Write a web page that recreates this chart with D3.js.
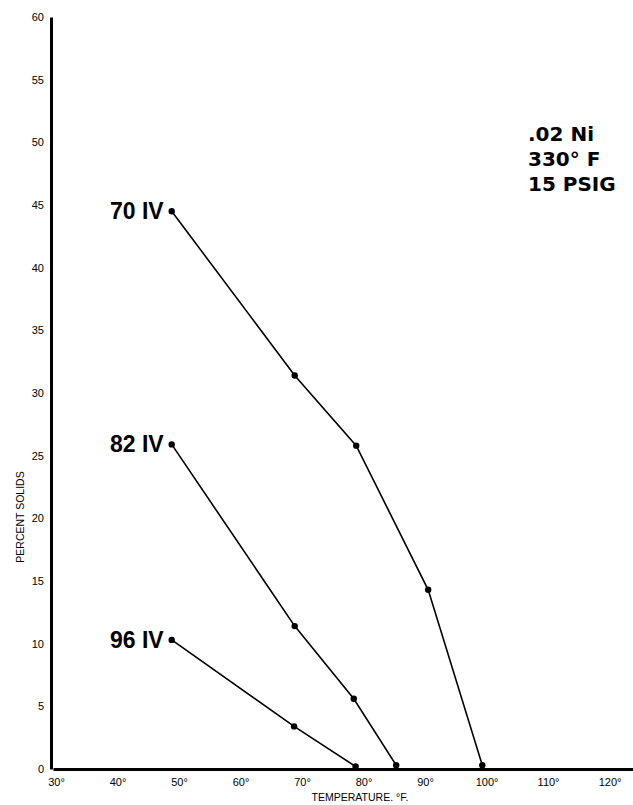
<!DOCTYPE html>
<html>
<head>
<meta charset="utf-8">
<script src="https://cdn.jsdelivr.net/npm/d3@7"></script>
<style>
  body { margin: 0; background: #fff; }
  svg { display: block; }
</style>
</head>
<body>
<div id="d3"></div>
<script>
// values
const seriesNames = ["70 IV", "82 IV", "96 IV"];
const temps70 = [49.3, 69.3, 79.3, 91.0, 99.8];
const solids70 = [44.5, 31.4, 25.8, 14.3, 0.3];
const temps82 = [49.3, 69.3, 78.9, 85.8];
const solids82 = [25.9, 11.4, 5.6, 0.3];
const temps96 = [49.3, 69.2, 79.2];
const solids96 = [10.3, 3.4, 0.2];
const xTicks = [30, 40, 50, 60, 70, 80, 90, 100, 110, 120];
const yTicks = [0, 5, 10, 15, 20, 25, 30, 35, 40, 45, 50, 55, 60];
const noteLines = [".02 Ni", "330° F", "15 PSIG"];

const width = 633;
const height = 805;

const series = [
  { name: seriesNames[0], temps: temps70, solids: solids70 },
  { name: seriesNames[1], temps: temps82, solids: solids82 },
  { name: seriesNames[2], temps: temps96, solids: solids96 },
].map((s) => ({ name: s.name, points: s.temps.map((t, i) => ({ t: t, v: s.solids[i] })) }));

const svg = d3
  .select("#d3")
  .append("svg")
  .attr("width", width)
  .attr("height", height)
  .style("font-family", "'Liberation Sans', Arial, sans-serif");

const x = d3.scaleLinear().domain([30, 124.3]).range([53, 633]);
const y = d3.scaleLinear().domain([0, 60]).range([769, 17]);

// x axis
const xAxis = svg
  .append("g")
  .attr("transform", `translate(0, ${y(0)})`)
  .call(
    d3.axisBottom(x)
      .tickValues(xTicks)
      .tickSize(0)
      .tickPadding(9)
      .tickFormat((d) => d + "°")
  );
xAxis.select(".domain").attr("stroke", "#000").attr("stroke-width", 3);
xAxis.selectAll("text").style("font-size", "11px").attr("fill", "#000").attr("dx", 3);

// y axis
const yAxis = svg
  .append("g")
  .attr("transform", `translate(${x(30) - 2}, 0)`)
  .call(d3.axisLeft(y).tickValues(yTicks).tickSize(0).tickPadding(7));
yAxis.select(".domain").attr("stroke", "#000").attr("stroke-width", 3);
yAxis.selectAll("text").style("font-size", "11px").attr("fill", "#000");

svg
  .append("text")
  .attr("transform", `translate(24, 517) rotate(-90)`)
  .attr("text-anchor", "middle")
  .style("font-size", "10.5px")
  .text("PERCENT SOLIDS");

svg
  .append("text")
  .attr("x", 360)
  .attr("y", 801)
  .attr("text-anchor", "middle")
  .style("font-size", "10.5px")
  .text("TEMPERATURE. °F.");

const line = d3
  .line()
  .x((d) => x(d.t))
  .y((d) => y(d.v));

const g = svg.append("g");

g.selectAll("path.series")
  .data(series)
  .enter()
  .append("path")
  .attr("class", "series")
  .attr("fill", "none")
  .attr("stroke", "#000")
  .attr("stroke-width", 1.6)
  .attr("d", (d) => line(d.points));

g.selectAll("g.dots")
  .data(series)
  .enter()
  .append("g")
  .attr("class", "dots")
  .selectAll("circle")
  .data((d) => d.points)
  .enter()
  .append("circle")
  .attr("cx", (d) => x(d.t))
  .attr("cy", (d) => y(d.v))
  .attr("r", 3.2)
  .attr("fill", "#000");

// series labels to the left of the first point
g.selectAll("text.label")
  .data(series)
  .enter()
  .append("text")
  .attr("class", "label")
  .attr("x", (d) => x(d.points[0].t) - 8)
  .attr("y", (d) => y(d.points[0].v) + 8)
  .attr("text-anchor", "end")
  .style("font-size", "23px")
  .style("font-weight", "bold")
  .text((d) => d.name);

svg
  .append("g")
  .selectAll("text")
  .data(noteLines)
  .enter()
  .append("text")
  .attr("x", 528)
  .attr("y", (d, i) => 141 + i * 25)
  .style("font-family", "'DejaVu Sans', sans-serif")
  .style("font-size", "20px")
  .style("font-weight", "bold")
  .text((d) => d);
</script>
</body>
</html>
